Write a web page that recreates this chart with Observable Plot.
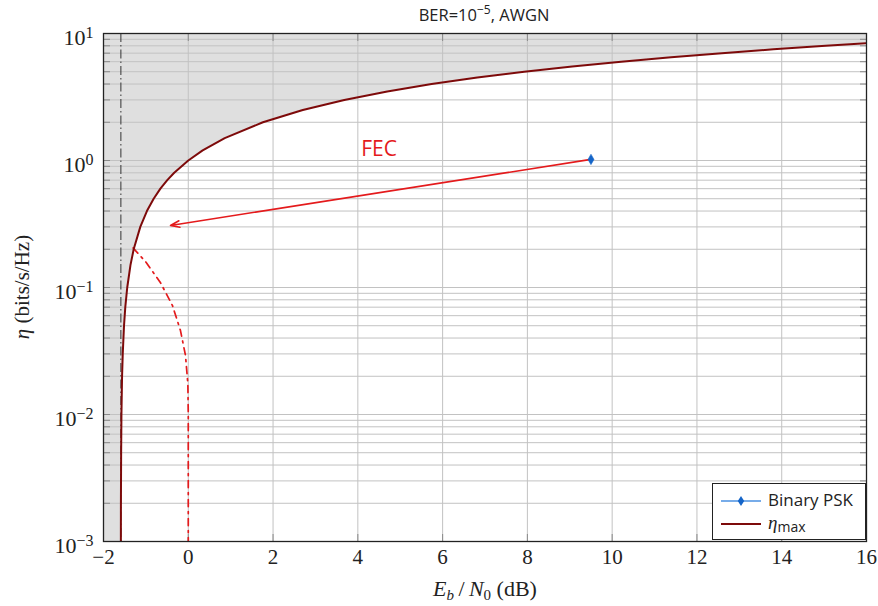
<!DOCTYPE html>
<html><head><meta charset="utf-8">
<script src="https://cdn.jsdelivr.net/npm/d3@7"></script>
<script src="https://cdn.jsdelivr.net/npm/@observablehq/plot@0.6"></script>
<style>
body{margin:0;background:#fff;}
#wrap{position:relative;width:878px;height:606px;overflow:hidden;}
.ov{position:absolute;white-space:nowrap;line-height:1;}
</style></head><body>
<div id="wrap"></div>
<script>
// ---- data ----
const xDomain = [-2, 16];
const yDomain = [0.001, 10];
const xTicks = [-2, 0, 2, 4, 6, 8, 10, 12, 14, 16];
const yTicks = [0.001, 0.01, 0.1, 1, 10];
const yTickLabels = ["10^−3", "10^−2", "10^−1", "10^0", "10^1"];
const minorSteps = [1, 2, 3, 4, 5, 6, 7, 8, 9];

// eta_max curve (Eb/N0 in dB, eta in bits/s/Hz)
const etaMaxX = [-1.590, -1.589, -1.584, -1.577, -1.562, -1.546, -1.516, -1.486, -1.440, -1.364, -1.288, -1.132, -0.976, -0.817, -0.658, -0.496, -0.332, 0.000, 0.339, 0.860, 1.761, 2.701, 3.680, 4.694, 5.740, 6.818, 7.924, 9.056, 10.212, 11.390, 12.587, 13.803, 15.035, 16.280, 19.900];
const etaMaxY = [0.001, 0.002, 0.005, 0.01, 0.02, 0.03, 0.05, 0.07, 0.1, 0.15, 0.2, 0.3, 0.4, 0.5, 0.6, 0.7, 0.8, 1.0, 1.2, 1.5, 2.0, 2.5, 3.0, 3.5, 4.0, 4.5, 5.0, 5.5, 6.0, 6.5, 7.0, 7.5, 8.0, 8.5, 10.0];

// red dash-dot curve
const fecX = [-1.30, -1.245, -1.009, -0.655, -0.372, -0.184, -0.066, -0.010, 0.000, 0.000];
const fecY = [0.205, 0.195, 0.160, 0.109, 0.072, 0.0458, 0.0292, 0.0175, 0.010, 0.001];

// Shannon limit vertical line
const shannonLimit = [-1.59];

// Binary PSK point and FEC arrow
const bpskX = [9.5];
const bpskY = [1.02];
const arrowFrom = [9.5, 1.02];
const arrowTo = [-0.42, 0.308];
const fecLabel = {x: 4.5, y: 1.22, text: "FEC"};

// ---- build tables ----
const etaMax = etaMaxX.map((x, i) => ({x, eta: etaMaxY[i]}));
const fecCurve = fecX.map((x, i) => ({x, eta: fecY[i]}));
const bpsk = bpskX.map((x, i) => ({x, eta: bpskY[i]}));
const yMinor = [];
yTicks.slice(0, -1).forEach(t => minorSteps.forEach(m => yMinor.push(t * m)));
yMinor.push(yTicks[yTicks.length - 1]);

const red = "#e41a1c";
const dark = "#7d0a0a";
const gridC = "#c2c2c2";
const tickC = "#8a8a8a";

const plot = Plot.plot({
  width: 878, height: 606,
  marginLeft: 103, marginRight: 12, marginTop: 33, marginBottom: 65,
  x: {domain: xDomain, label: null},
  y: {type: "log", domain: yDomain, label: null},
  style: {fontFamily: "Liberation Serif, serif", fontSize: "21px", background: "white", overflow: "visible"},
  marks: [
    Plot.areaX(etaMax, {y: "eta", x1: d => xDomain[0], x2: "x", fill: "#dfdfdf", clip: true, curve: "linear"}),
    Plot.gridX({ticks: xTicks, stroke: gridC, strokeOpacity: 1, strokeWidth: 1}),
    Plot.gridY({ticks: yMinor, stroke: gridC, strokeOpacity: 1, strokeWidth: 1}),
    // inward ticks on all four sides
    Plot.axisY({anchor: "left", ticks: yMinor, tickSize: -7, tickFormat: () => "", stroke: tickC}),
    Plot.axisY({anchor: "right", ticks: yMinor, tickSize: -7, tickFormat: () => "", stroke: tickC}),
    Plot.axisX({anchor: "bottom", ticks: xTicks, tickSize: -7, tickFormat: () => "", stroke: tickC}),
    Plot.axisX({anchor: "top", ticks: xTicks, tickSize: -7, tickFormat: () => "", stroke: tickC}),
    // tick labels
    Plot.axisX({anchor: "bottom", ticks: xTicks, tickSize: 0, tickPadding: 8, fill: "#222", fontSize: 21}),
    Plot.axisY({anchor: "left", ticks: yTicks, tickSize: 0, tickPadding: 10, dy: 4, fill: "#222", fontSize: 22,
      tickFormat: d => yTickLabels[yTicks.indexOf(d)]}),
    Plot.ruleX(shannonLimit, {stroke: "#333", strokeWidth: 1, strokeDasharray: "9,3,1.5,3"}),
    Plot.line(fecCurve, {x: "x", y: "eta", stroke: red, strokeWidth: 1.7, strokeDasharray: "7,5,2,5", clip: true}),
    Plot.line(etaMax, {x: "x", y: "eta", stroke: dark, strokeWidth: 2, clip: true}),
    Plot.arrow([{x1: arrowFrom[0], y1: arrowFrom[1], x2: arrowTo[0], y2: arrowTo[1]}],
      {x1: "x1", y1: "y1", x2: "x2", y2: "y2", stroke: red, strokeWidth: 1.6, headLength: 9, headAngle: 40}),
    Plot.dot(bpsk, {x: "x", y: "eta", symbol: "diamond", r: 3.2, fill: "#1565c8", stroke: "#1565c8", strokeWidth: 0.5}),
    Plot.text([fecLabel], {x: "x", y: "y", text: "text", fill: red, fontSize: 21, fontFamily: "Open Sans, sans-serif"}),
    Plot.frame({stroke: "#222", strokeWidth: 1.3})
  ]
});

// superscript exponents on the y tick labels
plot.querySelectorAll('g[aria-label="y-axis tick label"] text').forEach(t => {
  const s = t.textContent;
  if (s.includes("^")) {
    const [base, exp] = s.split("^");
    t.textContent = base;
    const sp = document.createElementNS("http://www.w3.org/2000/svg", "tspan");
    sp.setAttribute("dy", "-0.42em");
    sp.setAttribute("font-size", "16");
    sp.textContent = exp;
    t.appendChild(sp);
  }
});

const wrap = document.getElementById("wrap");
plot.style.position = "absolute";
plot.style.left = "0";
plot.style.top = "0";
wrap.appendChild(plot);

function ov(html, css) {
  const d = document.createElement("div");
  d.className = "ov";
  d.innerHTML = html;
  Object.assign(d.style, css);
  wrap.appendChild(d);
  return d;
}
// title
ov('BER=10<sup style="font-size:12px;vertical-align:7px;line-height:0">−5</sup>, AWGN',
  {left: "484px", top: "15px", transform: "translate(-50%,-50%)", fontSize: "16.5px", color: "#222", fontFamily: '"Open Sans",sans-serif'});
// x label
ov('<i>E</i><sub style="font-size:15px;line-height:0;vertical-align:-4px"><i>b</i></sub>&thinsp;/&thinsp;<i>N</i><sub style="font-size:15px;line-height:0;vertical-align:-4px">0</sub> (dB)',
  {left: "485px", top: "589px", transform: "translate(-50%,-50%)", fontSize: "22px", color: "#222", fontFamily: '"Liberation Serif",serif'});
// y label
ov('<i>η</i> (bits/s/Hz)',
  {left: "22px", top: "287px", transform: "translate(-50%,-50%) rotate(-90deg)", fontSize: "21px", color: "#222", fontFamily: '"Liberation Serif",serif'});
// legend
ov(`<div style="position:relative;width:152px;height:55px;border:1px solid #222;background:#fff;">
  <svg width="152" height="55" style="position:absolute;left:0;top:0">
    <line x1="8" x2="48" y1="17" y2="17" stroke="#4a90e2" stroke-width="1.5"/>
    <path d="M28,12 L31.2,17 L28,22 L24.8,17 Z" fill="#1565c8"/>
    <line x1="8" x2="48" y1="40" y2="40" stroke="${dark}" stroke-width="2"/>
  </svg>
  <div style="position:absolute;left:55px;top:7px;font-size:17px;font-family:'Open Sans',sans-serif;color:#222">Binary PSK</div>
  <div style="position:absolute;left:55px;top:29px;font-size:19px;font-family:'Liberation Serif',serif;color:#222"><i>η</i><span style="font-size:14px;font-family:'Open Sans',sans-serif;vertical-align:-3px">max</span></div>
</div>`, {left: "712px", top: "483px"});
</script>
</body></html>
